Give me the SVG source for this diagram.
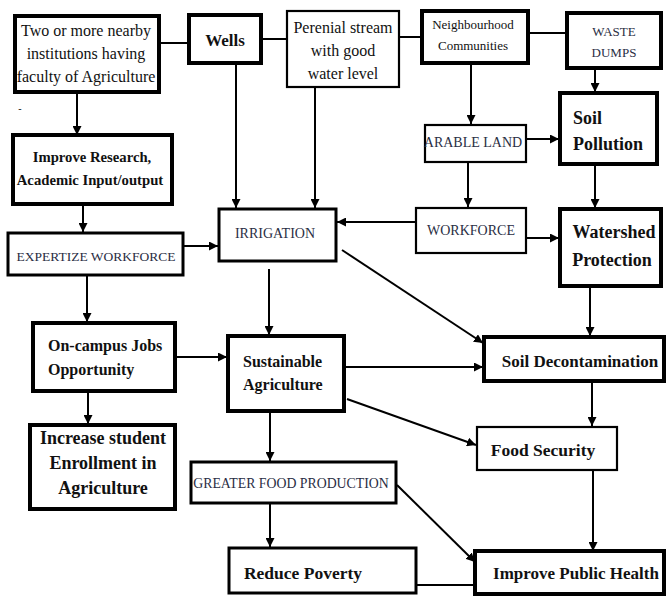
<svg xmlns="http://www.w3.org/2000/svg" width="666" height="596" viewBox="0 0 666 596">
<style>
.b{fill:#fff;stroke:#000}
.t4{stroke-width:4}
.t3{stroke-width:3}
.t2{stroke-width:2.2}
text{font-family:"Liberation Serif","Times New Roman",serif;fill:#111;text-anchor:middle}
.bd{font-weight:bold}
.cap{fill:#2a2e44}
.c line,.c path{stroke:#000;stroke-width:2;fill:none}
</style>
<defs>
<marker id="ah" viewBox="0 0 10 10" refX="10" refY="5" markerUnits="userSpaceOnUse" markerWidth="9" markerHeight="9" orient="auto">
<path d="M0,0 L10,5 L0,10 z" fill="#000"/>
</marker>
</defs>
<rect width="666" height="596" fill="#fff"/>
<g class="c" id="connectors">
<line x1="159" y1="43" x2="189" y2="43"/>
<line x1="261" y1="39" x2="287" y2="39"/>
<line x1="399" y1="37" x2="422" y2="37"/>
<line x1="528" y1="33" x2="567" y2="33"/>
<line x1="77" y1="92" x2="77" y2="135" marker-end="url(#ah)"/>
<line x1="236" y1="63" x2="236" y2="208" marker-end="url(#ah)"/>
<line x1="315" y1="87" x2="315" y2="208" marker-end="url(#ah)"/>
<line x1="471" y1="63" x2="471" y2="124" marker-end="url(#ah)"/>
<line x1="595" y1="68" x2="595" y2="92" marker-end="url(#ah)"/>
<line x1="526" y1="139" x2="559" y2="139" marker-end="url(#ah)"/>
<line x1="468" y1="162" x2="468" y2="207" marker-end="url(#ah)"/>
<line x1="595" y1="165" x2="595" y2="208" marker-end="url(#ah)"/>
<line x1="83" y1="204" x2="83" y2="232" marker-end="url(#ah)"/>
<line x1="183" y1="246" x2="218" y2="246" marker-end="url(#ah)"/>
<line x1="416" y1="222" x2="337" y2="222" marker-end="url(#ah)"/>
<line x1="526" y1="238" x2="559" y2="238" marker-end="url(#ah)"/>
<line x1="342" y1="250" x2="483" y2="343" marker-end="url(#ah)"/>
<line x1="590" y1="286" x2="590" y2="336" marker-end="url(#ah)"/>
<line x1="87" y1="275" x2="87" y2="322" marker-end="url(#ah)"/>
<line x1="269" y1="269" x2="269" y2="335" marker-end="url(#ah)"/>
<line x1="175" y1="357" x2="227" y2="357" marker-end="url(#ah)"/>
<line x1="344" y1="367" x2="483" y2="367" marker-end="url(#ah)"/>
<line x1="88" y1="391" x2="88" y2="424" marker-end="url(#ah)"/>
<line x1="347" y1="399" x2="476" y2="445" marker-end="url(#ah)"/>
<line x1="592" y1="381" x2="592" y2="426" marker-end="url(#ah)"/>
<line x1="270" y1="411" x2="270" y2="461" marker-end="url(#ah)"/>
<line x1="270" y1="503" x2="270" y2="547" marker-end="url(#ah)"/>
<line x1="397" y1="485" x2="475" y2="562" marker-end="url(#ah)"/>
<line x1="593" y1="470" x2="593" y2="551" marker-end="url(#ah)"/>
<line x1="416" y1="585" x2="475" y2="585"/>
</g>
<g id="n-institutions"><rect class="b t4" x="15" y="16" width="144" height="76"/>
<text x="86" y="36" font-size="16">Two or more nearby</text><text x="86" y="59" font-size="16">institutions having</text><text x="86" y="82" font-size="16">faculty of Agriculture</text></g>
<text x="20" y="112" font-size="10" fill="#555">-</text>
<g id="n-wells"><rect class="b t4" x="189" y="15" width="72" height="48"/><text class="bd" x="225" y="46" font-size="17">Wells</text></g>
<g id="n-perenial"><rect class="b t2" x="287" y="11" width="112" height="76"/>
<text x="343" y="33" font-size="16">Perenial stream</text><text x="343" y="56" font-size="16">with good</text><text x="343" y="79" font-size="16">water level</text></g>
<g id="n-neighbourhood"><rect class="b t4" x="422" y="11" width="106" height="52"/>
<text x="473" y="29" font-size="13">Neighbourhood</text><text x="473" y="50" font-size="13">Communities</text></g>
<g id="n-waste"><rect class="b t4" x="567" y="13" width="94" height="55"/>
<text class="cap" x="614" y="36" font-size="13">WASTE</text><text class="cap" x="614" y="57" font-size="13">DUMPS</text></g>
<g id="n-research"><rect class="b t4" x="13" y="135" width="159" height="69"/>
<text class="bd" x="92" y="162" font-size="14.7">Improve Research,</text><text class="bd" x="90" y="185" font-size="14.7">Academic Input/output</text></g>
<g id="n-arable"><rect class="b t2" x="425" y="125" width="101" height="37"/><text class="cap" x="473" y="147" font-size="14">ARABLE LAND</text></g>
<g id="n-soilpollution"><rect class="b t4" x="560" y="93" width="97" height="71"/>
<text class="bd" x="573" y="124" font-size="18" style="text-anchor:start">Soil</text><text class="bd" x="573" y="150" font-size="18" style="text-anchor:start">Pollution</text></g>
<g id="n-expertize"><rect class="b t3" x="8" y="233" width="175" height="42"/><text class="cap" x="96" y="261" font-size="13.5">EXPERTIZE WORKFORCE</text></g>
<g id="n-irrigation"><rect class="b t3" x="219" y="209" width="117" height="52"/><text class="cap" x="275" y="238" font-size="14">IRRIGATION</text></g>
<g id="n-workforce"><rect class="b t2" x="416" y="208" width="110" height="45"/><text class="cap" x="471" y="235" font-size="14">WORKFORCE</text></g>
<g id="n-watershed"><rect class="b t4" x="560" y="209" width="101" height="77"/>
<text class="bd" x="614" y="238" font-size="18">Watershed</text><text class="bd" x="612" y="266" font-size="18">Protection</text></g>
<g id="n-oncampus"><rect class="b t4" x="33" y="323" width="142" height="68"/>
<text class="bd" x="48" y="351" font-size="16" style="text-anchor:start">On-campus Jobs</text><text class="bd" x="48" y="375" font-size="16" style="text-anchor:start">Opportunity</text></g>
<g id="n-sustainable"><rect class="b t4" x="228" y="336" width="116" height="75"/>
<text class="bd" x="243" y="367" font-size="16" style="text-anchor:start">Sustainable</text><text class="bd" x="243" y="390" font-size="16" style="text-anchor:start">Agriculture</text></g>
<g id="n-soildecon"><rect class="b t4" x="484" y="337" width="180" height="44"/><text class="bd" x="580" y="367" font-size="17">Soil Decontamination</text></g>
<g id="n-increase"><rect class="b t4" x="30" y="425" width="145" height="84"/>
<text class="bd" x="103" y="444" font-size="18">Increase student</text><text class="bd" x="103" y="469" font-size="18">Enrollment in</text><text class="bd" x="103" y="494" font-size="18">Agriculture</text></g>
<g id="n-greater"><rect class="b t3" x="191" y="462" width="205" height="41"/><text class="cap" x="291" y="488" font-size="13.8">GREATER FOOD PRODUCTION</text></g>
<g id="n-foodsecurity"><rect class="b t2" x="477" y="427" width="140" height="43"/><text class="bd" x="543" y="456" font-size="17.5">Food Security</text></g>
<g id="n-poverty"><rect class="b t3" x="229" y="548" width="187" height="45"/><text class="bd" x="303" y="579" font-size="17.5">Reduce Poverty</text></g>
<g id="n-publichealth"><rect class="b t4" x="475" y="551" width="189" height="43"/><text class="bd" x="576" y="579" font-size="17">Improve Public Health</text></g>
</svg>
